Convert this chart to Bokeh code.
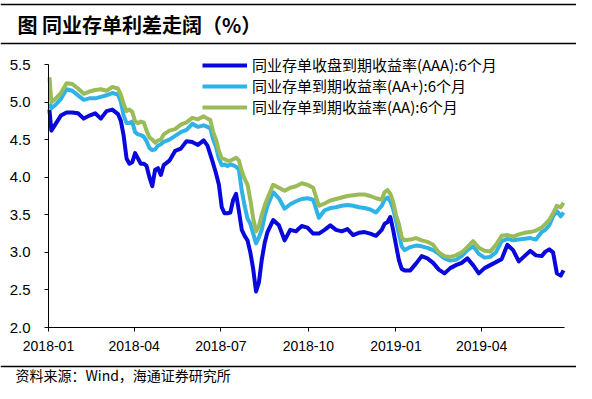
import pandas as pd
from bokeh.plotting import figure
from bokeh.models import (Range1d, FixedTicker, DatetimeTickFormatter, NumeralTickFormatter,
                          Legend, LegendItem, ColumnDataSource, Label)
from bokeh.embed import file_html
from bokeh.resources import INLINE

# ---------------- data ----------------
dates = [
    "2018-01-02", "2018-01-04", "2018-01-08", "2018-01-14", "2018-01-20", "2018-01-26", "2018-02-01", "2018-02-07", "2018-02-13", "2018-02-19",
    "2018-02-25", "2018-03-03", "2018-03-09", "2018-03-15", "2018-03-18", "2018-03-21", "2018-03-24", "2018-03-27", "2018-03-30", "2018-04-02",
    "2018-04-05", "2018-04-08", "2018-04-11", "2018-04-14", "2018-04-17", "2018-04-20", "2018-04-23", "2018-04-26", "2018-04-29", "2018-05-02",
    "2018-05-08", "2018-05-14", "2018-05-20", "2018-05-26", "2018-06-01", "2018-06-07", "2018-06-13", "2018-06-17", "2018-06-20", "2018-06-23",
    "2018-06-26", "2018-06-29", "2018-07-02", "2018-07-05", "2018-07-08", "2018-07-11", "2018-07-14", "2018-07-17", "2018-07-20", "2018-07-23",
    "2018-07-26", "2018-07-29", "2018-08-01", "2018-08-04", "2018-08-07", "2018-08-10", "2018-08-13", "2018-08-16", "2018-08-19", "2018-08-25",
    "2018-08-31", "2018-09-06", "2018-09-12", "2018-09-18", "2018-09-24", "2018-09-30", "2018-10-03", "2018-10-06", "2018-10-12", "2018-10-18",
    "2018-10-24", "2018-10-30", "2018-11-05", "2018-11-11", "2018-11-17", "2018-11-23", "2018-11-29", "2018-12-05", "2018-12-11", "2018-12-17",
    "2018-12-20", "2018-12-23", "2018-12-26", "2018-12-29", "2019-01-01", "2019-01-04", "2019-01-07", "2019-01-10", "2019-01-16", "2019-01-22",
    "2019-01-28", "2019-02-03", "2019-02-09", "2019-02-15", "2019-02-21", "2019-02-27", "2019-03-05", "2019-03-11", "2019-03-17", "2019-03-23",
    "2019-03-29", "2019-04-04", "2019-04-10", "2019-04-16", "2019-04-22", "2019-04-28", "2019-05-04", "2019-05-10", "2019-05-16", "2019-05-22",
    "2019-05-28", "2019-06-03", "2019-06-07", "2019-06-11", "2019-06-15", "2019-06-19", "2019-06-23", "2019-06-26",
]

aaa = [
    4.90, 4.62, 4.70, 4.82, 4.86, 4.86, 4.85, 4.78, 4.82, 4.85,
    4.78, 4.88, 4.90, 4.84, 4.75, 4.55, 4.25, 4.18, 4.20, 4.32,
    4.25, 4.18, 4.18, 4.15, 4.00, 3.88, 4.10, 4.12, 4.03, 4.16,
    4.22, 4.35, 4.38, 4.48, 4.47, 4.43, 4.49, 4.42, 4.30, 4.18,
    4.05, 3.90, 3.60, 3.52, 3.52, 3.53, 3.70, 3.78, 3.55, 3.30,
    3.22, 3.16, 3.00, 2.78, 2.48, 2.60, 2.90, 3.12, 3.27, 3.43,
    3.36, 3.16, 3.30, 3.28, 3.35, 3.33, 3.29, 3.25, 3.25, 3.30,
    3.36, 3.30, 3.28, 3.31, 3.23, 3.26, 3.27, 3.25, 3.22, 3.30,
    3.38, 3.40, 3.47, 3.30, 3.10, 2.90, 2.78, 2.76, 2.76, 2.85,
    2.95, 2.92, 2.86, 2.77, 2.72, 2.79, 2.83, 2.86, 2.92, 2.83,
    2.72, 2.79, 2.83, 2.87, 2.91, 3.10, 3.03, 2.88, 2.95, 3.02,
    2.96, 2.95, 3.01, 3.04, 3.00, 2.72, 2.69, 2.76,
]

aa_plus = [
    4.98, 4.92, 4.96, 5.04, 5.17, 5.15, 5.09, 5.03, 5.05, 5.05,
    5.07, 5.09, 5.12, 5.10, 5.00, 4.82, 4.72, 4.72, 4.74, 4.60,
    4.57, 4.56, 4.54, 4.48, 4.39, 4.36, 4.37, 4.42, 4.44, 4.47,
    4.50, 4.55, 4.60, 4.63, 4.71, 4.67, 4.69, 4.67, 4.65, 4.50,
    4.40, 4.25, 4.16, 4.17, 4.15, 4.17, 4.16, 4.14, 4.10, 3.82,
    3.62, 3.45, 3.38, 3.25, 3.12, 3.20, 3.30, 3.48, 3.62, 3.80,
    3.72, 3.58, 3.64, 3.68, 3.71, 3.72, 3.71, 3.70, 3.46, 3.56,
    3.59, 3.60, 3.62, 3.63, 3.62, 3.60, 3.59, 3.57, 3.53, 3.62,
    3.70, 3.73, 3.68, 3.58, 3.42, 3.25, 3.08, 3.03, 3.07, 3.09,
    3.08, 3.06, 3.03, 2.98, 2.92, 2.89, 2.90, 2.95, 3.03, 3.08,
    2.98, 2.93, 2.94, 3.00, 3.15, 3.18, 3.16, 3.17, 3.18, 3.19,
    3.17, 3.27, 3.30, 3.36, 3.48, 3.55, 3.48, 3.53,
]

aa = [
    5.33, 5.00, 5.04, 5.12, 5.25, 5.24, 5.18, 5.11, 5.14, 5.16,
    5.17, 5.15, 5.20, 5.18, 5.10, 4.97, 4.88, 4.90, 4.87, 4.74,
    4.72, 4.74, 4.73, 4.62, 4.53, 4.50, 4.46, 4.49, 4.50, 4.57,
    4.62, 4.64, 4.70, 4.73, 4.79, 4.77, 4.81, 4.78, 4.76, 4.60,
    4.50, 4.35, 4.25, 4.24, 4.22, 4.22, 4.24, 4.26, 4.22, 4.08,
    3.98, 3.90, 3.70, 3.45, 3.28, 3.35, 3.50, 3.62, 3.72, 3.90,
    3.86, 3.82, 3.86, 3.88, 3.92, 3.90, 3.88, 3.86, 3.62, 3.65,
    3.69, 3.71, 3.73, 3.75, 3.76, 3.77, 3.77, 3.75, 3.72, 3.70,
    3.80, 3.83, 3.78, 3.67, 3.50, 3.38, 3.20, 3.16, 3.17, 3.19,
    3.16, 3.14, 3.10, 3.00, 2.95, 2.94, 2.96, 3.00, 3.07, 3.15,
    3.06, 3.02, 3.01, 3.10, 3.22, 3.23, 3.21, 3.24, 3.26, 3.27,
    3.29, 3.33, 3.38, 3.43, 3.52, 3.62, 3.60, 3.66,
]

series_names = [
    "同业存单收盘到期收益率(AAA):6个月",
    "同业存单到期收益率(AA+):6个月",
    "同业存单到期收益率(AA):6个月",
]
series_colors = ["#0808DC", "#2FB2E8", "#9BBB59"]

x_tick_dates = ["2018-01-01", "2018-04-01", "2018-07-01", "2018-10-01", "2019-01-01", "2019-04-01"]
y_ticks = [2.0, 2.5, 3.0, 3.5, 4.0, 4.5, 5.0, 5.5]
y_axis_min, y_axis_max = 2.0, 5.5
x_axis_start, x_axis_end = "2018-01-01", "2019-06-27"

title_text = "图 同业存单利差走阔（%）"
source_text = "资料来源：Wind，海通证券研究所"

assert len(dates) == len(aaa) == len(aa_plus) == len(aa)

# ---------------- layout (page pixels) ----------------
W, H = 576, 383
AX_LEFT, AX_RIGHT = 48, 564      # x pixels of the x-axis ends
AX_BOTTOM, AX_TOP = 327, 64      # y pixels of 2.0 and 5.5
RULES_Y = [3.5, 43, 365.5]       # horizontal rules (page y)

t0 = pd.Timestamp(x_axis_start)
t1 = pd.Timestamp(x_axis_end)
px_per_ms = (AX_RIGHT - AX_LEFT) / (t1 - t0).total_seconds() / 1000.0
px_per_unit = (AX_BOTTOM - AX_TOP) / (y_axis_max - y_axis_min)
x_lo = t0 - pd.Timedelta(milliseconds=AX_LEFT / px_per_ms)
x_hi = t1 + pd.Timedelta(milliseconds=(W - AX_RIGHT) / px_per_ms)
y_lo = y_axis_min - (H - AX_BOTTOM) / px_per_unit
y_hi = y_axis_max + AX_TOP / px_per_unit

def ms(t):
    return pd.Timestamp(t).value // 10**6

def page_y_to_data(y_px):
    return y_hi - y_px / px_per_unit

# ---------------- figure ----------------
src = ColumnDataSource(dict(date=pd.to_datetime(dates), aaa=aaa, aap=aa_plus, aa=aa))

p = figure(width=W, height=H, x_axis_type="datetime", output_backend="svg",
           toolbar_location=None,
           x_range=Range1d(x_lo, x_hi), y_range=Range1d(y_lo, y_hi),
           min_border_left=0, min_border_right=0, min_border_top=0, min_border_bottom=0)
p.outline_line_color = None
p.grid.visible = False
p.background_fill_color = "white"
p.border_fill_color = "white"

# horizontal rules as full-width span glyphs
p.hspan(y=[page_y_to_data(v) for v in RULES_Y], line_color="black", line_width=1.5)

renderers = []
for col, color in zip(["aaa", "aap", "aa"], series_colors):
    r = p.line("date", col, source=src, line_color=color, line_width=4, line_join="round")
    renderers.append(r)

p.xaxis.ticker = FixedTicker(ticks=[ms(d) for d in x_tick_dates])
p.xaxis.formatter = DatetimeTickFormatter(days="%Y-%m", months="%Y-%m", years="%Y-%m",
                                          hours="%Y-%m", minutes="%Y-%m")
p.xaxis.bounds = (ms(t0), ms(t1))
p.xaxis.fixed_location = y_axis_min
p.yaxis.ticker = FixedTicker(ticks=y_ticks)
p.yaxis.formatter = NumeralTickFormatter(format="0.0")
p.yaxis.bounds = (y_axis_min, y_axis_max)
p.yaxis.fixed_location = ms(t0)

for ax in (p.xaxis[0], p.yaxis[0]):
    ax.axis_line_color = "black"
    ax.axis_line_width = 1
    ax.major_tick_line_color = "black"
    ax.major_tick_out = 4
    ax.major_tick_in = 0
    ax.minor_tick_line_color = None
    ax.major_label_text_color = "black"
    ax.major_label_text_font = "Liberation Sans"
p.xaxis.major_label_text_font_size = "14px"
p.yaxis.major_label_text_font_size = "15px"
p.xaxis.major_label_standoff = 9
p.yaxis.major_label_standoff = 14

legend = Legend(items=[LegendItem(label=n, renderers=[r]) for n, r in zip(series_names, renderers)],
                location=(202, H - 117), padding=0, margin=0, spacing=0,
                border_line_color=None, background_fill_alpha=0,
                glyph_width=45, glyph_height=20, label_height=20, label_standoff=5,
                label_text_font="Noto Sans CJK SC", label_text_font_size="15px",
                label_text_color="black")
p.add_layout(legend)

# title and source (screen units: from frame bottom-left; frame == whole canvas)
p.add_layout(Label(x=17, y=H - 24, x_units="screen", y_units="screen", text=title_text,
                   text_font="Noto Sans CJK SC", text_font_size="20px", text_font_style="bold",
                   text_baseline="middle", text_color="black"))
p.add_layout(Label(x=15, y=H - 374, x_units="screen", y_units="screen", text=source_text,
                   text_font="Noto Sans CJK SC", text_font_size="14px",
                   text_baseline="middle", text_color="black"))

open("out.html", "w").write(file_html(p, INLINE))
